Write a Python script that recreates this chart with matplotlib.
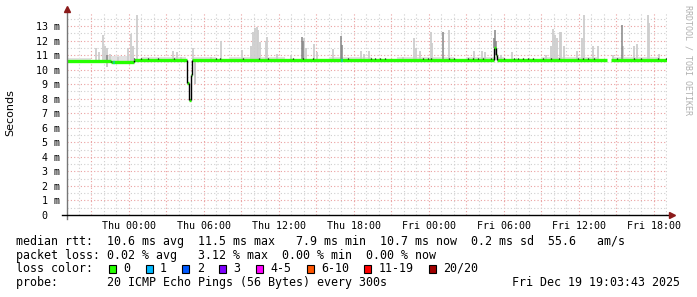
import numpy as np
import matplotlib
matplotlib.use("Agg")
import matplotlib.pyplot as plt
from matplotlib.patches import Rectangle

# ================================
# DATA (hours relative to Thu 00:00, values in ms)
# ================================
median_hours = [-4.93, -1.44, 0.40, 4.70, 4.80, 5.00, 5.10, 29.20, 29.36, 29.44, 38.30, 38.56, 43.07]
median_ms = [10.60, 10.50, 10.68, 9.10, 7.90, 9.60, 10.68, 11.50, 11.00, 10.68, np.nan, 10.68, 10.68]

# small one-sample steps of the median (black dots on the line)
bump_hours = [0.40, 0.96, 1.52, 2.32, 3.60, 6.96, 7.28, 9.12, 10.40, 11.12, 13.12, 13.92, 14.72,
              17.52, 19.36, 19.68, 20.08, 20.48, 23.52, 23.92, 24.16, 25.60, 26.00, 27.12, 27.52,
              27.92, 28.32, 28.96, 30.00, 30.80, 31.12, 31.52, 31.92, 32.32, 33.12, 33.76, 34.40,
              35.92, 36.32, 36.72, 37.20, 39.04, 40.40, 40.96, 42.32, 42.96]

# pings with 1 lost packet
loss1_hours = [-1.20, 17.04]

# light smoke: hour, top of the ping spread
smoke_hours = [-2.64, -2.40, -2.06, -1.92, -1.70, -1.52, -0.88, -0.08, 0.22, 0.32, 0.70,
               3.58, 3.90, 4.16, 5.18, 6.56, 7.36, 9.10, 9.82, 9.94, 10.08, 10.24, 10.38,
               10.50, 10.96, 11.10, 11.90, 12.96, 14.02, 14.16, 14.82, 15.04, 16.38, 18.56,
               18.82, 19.20, 21.98, 22.82, 22.96, 23.30, 24.16, 24.30, 25.62, 27.62, 28.30,
               28.48, 29.76, 30.70, 33.36, 33.76, 33.94, 34.10, 34.30, 34.48, 34.62, 34.82,
               35.90, 36.30, 36.42, 37.18, 37.52, 38.72, 39.58, 40.42, 40.70, 41.54, 41.62, 42.42]
smoke_top = [11.5, 11.2, 12.4, 11.6, 11.5, 11.1, 10.9, 11.5, 12.45, 11.6, 13.75,
             11.3, 11.2, 10.9, 11.5, 10.9, 12.0, 11.35, 11.6, 12.6, 12.85, 12.95, 12.7,
             11.9, 12.0, 12.26, 11.1, 11.0, 12.2, 11.5, 11.75, 11.2, 11.45, 11.3,
             11.1, 11.3, 10.9, 12.15, 11.5, 11.3, 12.6, 11.8, 12.7, 11.3, 11.3,
             11.2, 11.0, 11.2, 11.0, 11.6, 12.8, 12.4, 12.2, 12.6, 12.6, 11.6,
             11.3, 12.15, 13.75, 11.6, 11.6, 11.0, 11.6, 11.6, 11.75, 13.75, 13.2, 11.1]

# dense (dark) smoke
dark_hours = [-1.70, 13.90, 13.96, 16.96, 17.10, 25.18, 29.22, 29.34, 29.42, 39.50]
dark_top = [11.0, 12.26, 12.0, 12.3, 11.7, 12.6, 12.2, 12.7, 12.0, 13.1]

# smoke below the median
low_hours = [-1.70, 5.30]
low_bottom = [10.2, 9.0]

# light haze just above the line: start, end, top
haze_start = [-4.9, -2.0, 1.0, 5.2, 8.0, 16.0, 21.5, 27.0, 33.0, 38.7]
haze_end = [-3.0, 0.4, 4.6, 7.0, 12.5, 19.5, 26.0, 30.0, 37.5, 42.5]
haze_top = [10.8, 10.95, 10.9, 10.9, 10.9, 10.9, 10.9, 10.9, 10.9, 10.9]

tick_hours = [0, 6, 12, 18, 24, 30, 36, 42]
tick_labels = ["Thu 00:00", "Thu 06:00", "Thu 12:00", "Thu 18:00",
               "Fri 00:00", "Fri 06:00", "Fri 12:00", "Fri 18:00"]
y_values = list(range(0, 14))

loss_names = ["0", "1", "2", "3", "4-5", "6-10", "11-19", "20/20"]
loss_colors = ["#26ff00", "#00b8ff", "#0059ff", "#7e00ff", "#ff00ff", "#ff5500", "#ff0000", "#a10000"]

line_rtt = "median rtt:  10.6 ms avg  11.5 ms max   7.9 ms min  10.7 ms now  0.2 ms sd  55.6   am/s"
line_loss = "packet loss: 0.02 % avg   3.12 % max  0.00 % min  0.00 % now"
line_probe = "probe:       20 ICMP Echo Pings (56 Bytes) every 300s"
stamp = "Fri Dec 19 19:03:43 2025"

# ================================
# FIGURE
# ================================
W, H = 697, 297
MONO = "DejaVu Sans Mono"
fig = plt.figure(figsize=(W / 100, H / 100), dpi=100)
fig.patch.set_facecolor("white")
ax = fig.add_axes([67 / W, (H - 215) / H, 600 / W, 203.5 / H])
x0, x1 = -4.93, 43.07
ax.set_xlim(x0, x1)
ax.set_ylim(0, 14)
for s in ax.spines.values():
    s.set_visible(False)

# grid
for h in np.arange(-4, 44, 1):
    major = (h % 3 == 0)
    ax.axvline(h, color="#eaa0a0" if major else "#cfcfcf", lw=0.8,
               ls=(0, (1, 2)), zorder=0)
for v in np.arange(0.5, 14, 0.5):
    major = (v % 1 == 0)
    ax.axhline(v, color="#eaa0a0" if major else "#cfcfcf", lw=0.8,
               ls=(0, (1, 2)), zorder=0)


def base_at(h):
    i = np.searchsorted(median_hours, h, side="right") - 1
    i = max(0, min(i, len(median_ms) - 1))
    v = median_ms[i]
    return 10.68 if np.isnan(v) else v


# smoke
for a, b, t in zip(haze_start, haze_end, haze_top):
    ax.fill_between([a, b], [base_at(a)] * 2, [t, t], color="#e2e2e2", lw=0, zorder=1)
ax.vlines(smoke_hours, [base_at(h) for h in smoke_hours], smoke_top,
          color="#cdcdcd", lw=1.3, zorder=1.5)
ax.vlines(dark_hours, [base_at(h) for h in dark_hours], dark_top,
          color="#858585", lw=1.1, zorder=1.6)
ax.vlines(low_hours, low_bottom, [base_at(h) for h in low_hours],
          color="#bdbdbd", lw=1.2, zorder=1.5)

# median line, green for no loss
for i in range(len(median_ms) - 1):
    if not np.isnan(median_ms[i]):
        ax.hlines(median_ms[i], median_hours[i], median_hours[i + 1],
                  color=loss_colors[0], lw=2.4, zorder=3)
for i in range(1, len(median_ms)):
    a, b = median_ms[i - 1], median_ms[i]
    if not np.isnan(a) and not np.isnan(b) and a != b:
        ax.vlines(median_hours[i], a, b, color="black", lw=1.0, zorder=4)
ax.vlines(bump_hours, [base_at(h) + 0.05 for h in bump_hours],
          [base_at(h) + 0.14 for h in bump_hours], color="black", lw=0.9, zorder=4)
for h in loss1_hours:
    ax.hlines(base_at(h), h - 0.05, h + 0.05, color=loss_colors[1], lw=2.4, zorder=5)

# axes lines with arrow heads
ax.plot([0, 0], [-0.02, 1.0], transform=ax.transAxes, color="#777777", lw=1.0,
        clip_on=False, zorder=6)
ax.plot([-0.008, 1.006], [0, 0], transform=ax.transAxes, color="black", lw=1.0,
        clip_on=False, zorder=6)
ax.plot([0], [1.01], transform=ax.transAxes, marker="^", color="#8b1a1a", ms=4,
        clip_on=False, zorder=7)
ax.plot([1.008], [0], transform=ax.transAxes, marker=">", color="#8b1a1a", ms=4,
        clip_on=False, zorder=7)

# ticks
ax.set_xticks(tick_hours)
ax.set_xticklabels(tick_labels, fontfamily=MONO, fontsize=7.2)
ax.set_yticks(y_values)
ax.set_yticklabels([f"{v} m" if v else "0  " for v in y_values], fontfamily=MONO, fontsize=7.2)
ax.tick_params(axis="x", length=0, pad=4.5)
ax.tick_params(axis="y", length=0, pad=5)

fig.text(10 / W, 1 - 113 / H, "Seconds", rotation=90, fontsize=8,
         ha="center", va="center", fontfamily="DejaVu Sans")
fig.text(688 / W, 1 - 60 / H, "RRDTOOL / TOBI OETIKER", rotation=270, fontsize=6.0,
         ha="center", va="center", fontfamily=MONO, color="#b0b0b0")

# ================================
# LEGEND TEXT
# ================================
CW = 7.0
FS = 8.4


def put(x, y, s, ha="left"):
    fig.text(x / W, 1 - y / H, s, fontfamily=MONO, fontsize=FS, ha=ha, va="center")


put(16, 241.7, line_rtt)
put(16, 255.0, line_loss)
put(16, 268.3, "loss color:")
put(16, 282.7, line_probe)
put(680, 282.7, stamp, ha="right")

bx = 109
for name, col in zip(loss_names, loss_colors):
    fig.add_artist(Rectangle((bx / W, 1 - 273 / H), 7 / W, 8 / H, transform=fig.transFigure,
                             facecolor=col, edgecolor="black", lw=0.8))
    put(bx + 14.3, 268.3, name)
    bx = bx + 14.3 + CW * len(name) + 15.4

fig.savefig("out.png", dpi=100, facecolor="white")
